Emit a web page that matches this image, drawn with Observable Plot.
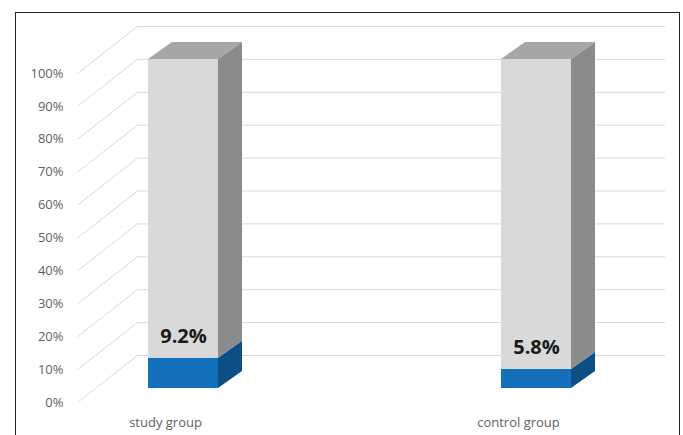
<!DOCTYPE html>
<html>
<head>
<meta charset="utf-8">
<script src="https://cdn.jsdelivr.net/npm/d3@7"></script>
<script src="https://cdn.jsdelivr.net/npm/@observablehq/plot@0.6"></script>
<style>
  html, body { margin: 0; padding: 0; background: #fff; }
  #wrap { position: relative; width: 683px; height: 435px; overflow: hidden; }
  #border { position: absolute; left: 15px; top: 12px; width: 665px; height: 440px; border: 1.5px solid #222; box-sizing: border-box; pointer-events: none; }
  svg { display: block; }
</style>
</head>
<body>
<div id="wrap"><div id="border"></div></div>
<script>
// ---- data ----
const categories = ["study group", "control group"];
const positiveRates = [9.2, 5.8];          // percent (blue segment)
const yTicks = [0, 10, 20, 30, 40, 50, 60, 70, 80, 90, 100];

// ---- styling / 3D geometry (pixels converted to scale units) ----
const XPX = 353, YPX = 329;                 // pixels per x unit / y unit
const HW = 35 / XPX;                        // half bar width
const DX = 24 / XPX, DY = 17 / YPX;         // bar depth offset
const BACK_DY = 33 / YPX;                   // back wall offset
const FRONT_DY = -14 / YPX;                 // axis front offset
const AX_FRONT_X = (77 - 183) / XPX, AX_BACK_X = (137 - 183) / XPX, AX_END_X = (665 - 183) / XPX;
const BLUE = "#1470bb", BLUE_SIDE = "#0c4f86";
const GRAY = "#d9d9d9", GRAY_SIDE = "#8b8b8b", GRAY_TOP = "#a6a6a6";
const GRID = "#d9d9d9", TEXT = "#5f5f5f";

const bars = categories.map((c, i) => ({cat: c, i, v: positiveRates[i] / 100, label: positiveRates[i].toFixed(1) + "%"}));
const ticks = yTicks.map(t => t / 100);

const blueSide = bars.flatMap(d => [
  {cat: d.cat, x: d.i + HW, y1: 0, y2: d.v},
  {cat: d.cat, x: d.i + HW + DX, y1: DY, y2: d.v + DY}
]);
const graySide = bars.flatMap(d => [
  {cat: d.cat, x: d.i + HW, y1: d.v, y2: 1},
  {cat: d.cat, x: d.i + HW + DX, y1: d.v + DY, y2: 1 + DY}
]);
const grayTop = bars.flatMap(d => [
  {cat: d.cat, y: 1, x1: d.i - HW, x2: d.i + HW},
  {cat: d.cat, y: 1 + DY, x1: d.i - HW + DX, x2: d.i + HW + DX}
]);

const chart = Plot.plot({
  width: 683,
  height: 435,
  marginLeft: 66,
  marginTop: 0,
  marginBottom: 0,
  marginRight: 0,
  style: {background: "#fff", fontFamily: "'Open Sans', sans-serif"},
  x: {type: "linear", domain: [0, 1], range: [183, 536], axis: null},
  y: {type: "linear", domain: [0, 1], range: [388, 59]},
  marks: [
    // back-wall gridlines
    Plot.ruleY(ticks, {y: d => d + BACK_DY, x1: AX_BACK_X, x2: AX_END_X, stroke: GRID, strokeWidth: 1}),
    // floor/side diagonals
    Plot.link(ticks, {x1: AX_FRONT_X, y1: d => d + FRONT_DY, x2: AX_BACK_X, y2: d => d + BACK_DY, stroke: GRID, strokeWidth: 1}),
    // y axis labels
    Plot.axisY(ticks, {anchor: "left", tickSize: 0, tickPadding: 3, dy: 14, tickFormat: d => Math.round(d * 100) + "%", fontSize: 13, color: TEXT}),
    // side faces
    Plot.areaY(blueSide, {x: "x", y1: "y1", y2: "y2", z: "cat", fill: BLUE_SIDE}),
    Plot.areaY(graySide, {x: "x", y1: "y1", y2: "y2", z: "cat", fill: GRAY_SIDE}),
    // top faces
    Plot.areaX(grayTop, {y: "y", x1: "x1", x2: "x2", z: "cat", fill: GRAY_TOP}),
    // front faces
    Plot.rect(bars, {x1: d => d.i - HW, x2: d => d.i + HW, y1: 0, y2: d => d.v, fill: BLUE}),
    Plot.rect(bars, {x1: d => d.i - HW, x2: d => d.i + HW, y1: d => d.v, y2: 1, fill: GRAY}),
    // value labels
    Plot.text(bars, {x: "i", y: "v", text: "label", dy: -22, fontSize: 20, fontWeight: "bold", fill: "#1a1a1a"}),
    // category labels
    Plot.text(bars, {x: "i", y: 0, text: "cat", dx: -18, dy: 34, fontSize: 13, fill: TEXT})
  ]
});
document.getElementById("wrap").prepend(chart);
</script>
</body>
</html>
